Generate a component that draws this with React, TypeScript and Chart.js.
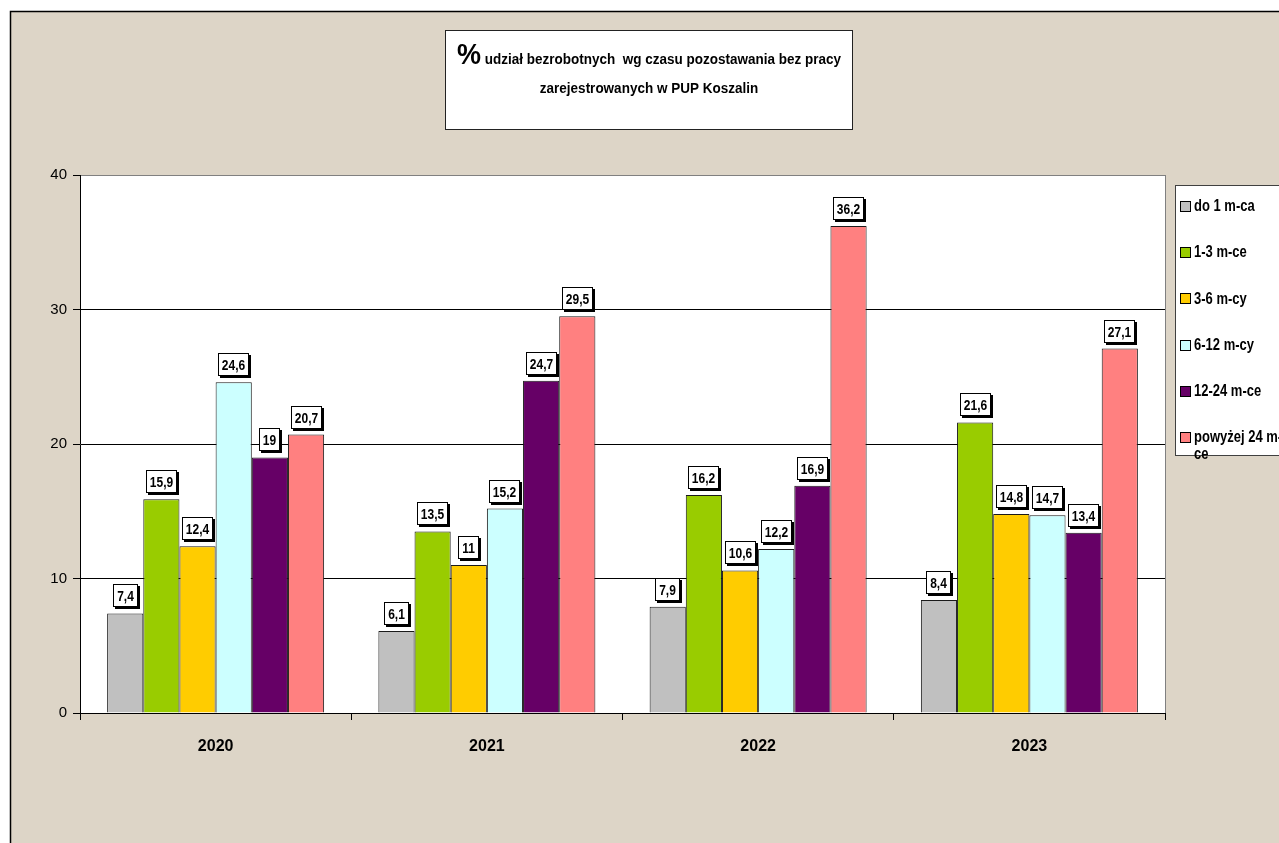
import React, { useEffect, useRef } from 'react';
import { Chart, registerables } from 'chart.js';

Chart.register(...registerables);

const categories = ['2020', '2021', '2022', '2023'];
const seriesLabels = ['do 1 m-ca', '1-3 m-ce', '3-6 m-cy', '6-12 m-cy', '12-24 m-ce', 'powyżej 24 m-ce'];
const do1 = [7.4, 6.1, 7.9, 8.4];
const m1to3 = [15.9, 13.5, 16.2, 21.6];
const m3to6 = [12.4, 11, 10.6, 14.8];
const m6to12 = [24.6, 15.2, 12.2, 14.7];
const m12to24 = [19, 24.7, 16.9, 13.4];
const over24 = [20.7, 29.5, 36.2, 27.1];
const seriesValues = [do1, m1to3, m3to6, m6to12, m12to24, over24];
const seriesColors = ['#C0C0C0', '#99CC00', '#FFCC00', '#CCFFFF', '#660066', '#FF8080'];
const yMin = 0;
const yMax = 40;
const yStep = 10;
const titleMark = '%';
const titleLine1 = 'udział bezrobotnych  wg czasu pozostawania bez pracy';
const titleLine2 = 'zarejestrowanych w PUP Koszalin';

const FONT = '"Liberation Sans", Arial, Helvetica, sans-serif';
const BEIGE = '#DDD5C7';

const fmt = (v: number) => String(v).replace('.', ',');

// draw text stretched vertically (like the original's scaled rendering)
function stretchedText(ctx: any, text: string, x: number, y: number, sy: number) {
  ctx.save();
  ctx.translate(x, y);
  ctx.scale(1, sy);
  ctx.fillText(text, 0, 0);
  ctx.restore();
}

const framePlugin = {
  id: 'framePlugin',
  beforeDraw(chart: any) {
    const ctx = chart.ctx;
    const W = chart.width;
    const H = chart.height;
    const ca = chart.chartArea;
    ctx.save();
    ctx.fillStyle = '#FFFFFF';
    ctx.fillRect(0, 0, W, H);
    ctx.fillStyle = BEIGE;
    ctx.fillRect(11, 12, W, H);
    ctx.strokeStyle = '#000';
    ctx.lineWidth = 1.5;
    ctx.beginPath();
    ctx.moveTo(10.5, H);
    ctx.lineTo(10.5, 11.5);
    ctx.lineTo(W, 11.5);
    ctx.stroke();
    // plot area
    ctx.fillStyle = '#FFFFFF';
    ctx.fillRect(ca.left, ca.top, ca.right - ca.left, ca.bottom - ca.top);

    // title box
    const tx = 445, ty = 30, tw = 408, th = 100;
    ctx.fillStyle = '#FFFFFF';
    ctx.fillRect(tx, ty, tw, th);
    ctx.strokeStyle = '#222';
    ctx.lineWidth = 1;
    ctx.strokeRect(tx + 0.5, ty + 0.5, tw - 1, th - 1);
    const cx = tx + tw / 2;
    ctx.fillStyle = '#000';
    ctx.textBaseline = 'alphabetic';
    ctx.textAlign = 'left';
    const bigFont = `bold 27px ${FONT}`;
    const smallFont = `bold 13.5px ${FONT}`;
    ctx.font = bigFont;
    const wBig = ctx.measureText(titleMark).width;
    ctx.font = smallFont;
    const gap = ctx.measureText(' ').width;
    const wSmall = ctx.measureText(titleLine1).width;
    const total = wBig + gap + wSmall;
    const x0 = cx - total / 2;
    ctx.font = bigFont;
    stretchedText(ctx, titleMark, x0, 64, 1.1);
    ctx.font = smallFont;
    stretchedText(ctx, titleLine1, x0 + wBig + gap, 64, 1.15);
    ctx.textAlign = 'center';
    stretchedText(ctx, titleLine2, cx, 93, 1.15);
    ctx.restore();
  },
  afterDraw(chart: any) {
    const ctx = chart.ctx;
    const ca = chart.chartArea;
    ctx.save();
    // right border of plot area
    ctx.strokeStyle = '#808080';
    ctx.lineWidth = 1;
    ctx.beginPath();
    ctx.moveTo(Math.round(ca.right) + 0.5, ca.top);
    ctx.lineTo(Math.round(ca.right) + 0.5, ca.bottom);
    ctx.stroke();

    // data labels
    ctx.font = `bold 12px ${FONT}`;
    ctx.textAlign = 'center';
    ctx.textBaseline = 'middle';
    chart.data.datasets.forEach((ds: any, i: number) => {
      const meta = chart.getDatasetMeta(i);
      meta.data.forEach((bar: any, j: number) => {
        const text = fmt(ds.data[j]);
        const w = Math.round(ctx.measureText(text).width + 8);
        const h = 23;
        const left = Math.round(bar.x - w / 2);
        const top = Math.round(bar.y - 6 - h);
        ctx.fillStyle = '#000';
        ctx.fillRect(left + 2, top + 2, w, h);
        ctx.fillStyle = '#FFF';
        ctx.fillRect(left, top, w, h);
        ctx.strokeStyle = '#000';
        ctx.lineWidth = 1;
        ctx.strokeRect(left + 0.5, top + 0.5, w - 1, h - 1);
        ctx.fillStyle = '#000';
        stretchedText(ctx, text, left + w / 2, top + h / 2 + 1, 1.25);
      });
    });

    // legend box
    const lx = 1175, ly = 185, lw = 200, lh = 271;
    ctx.fillStyle = '#FFF';
    ctx.fillRect(lx, ly, lw, lh);
    ctx.strokeStyle = '#404040';
    ctx.strokeRect(lx + 0.5, ly + 0.5, lw, lh - 1);
    ctx.font = `bold 13px ${FONT}`;
    ctx.textAlign = 'left';
    ctx.textBaseline = 'middle';
    const maxW = 80;
    seriesLabels.forEach((label, i) => {
      const yc = 207 + i * 46.2;
      ctx.fillStyle = seriesColors[i];
      ctx.fillRect(1181, Math.round(yc - 5), 9, 9);
      ctx.strokeStyle = '#000';
      ctx.strokeRect(1180.5, Math.round(yc - 5) - 0.5, 10, 10);
      ctx.fillStyle = '#000';
      let lines = [label];
      if (ctx.measureText(label).width > maxW && label.lastIndexOf('-') > 0) {
        const k = label.lastIndexOf('-') + 1;
        lines = [label.slice(0, k), label.slice(k)];
      }
      lines.forEach((ln, k) => stretchedText(ctx, ln, 1194, yc + k * 17, 1.2));
    });
    ctx.restore();
  },
};

export default function App() {
  const ref = useRef<HTMLCanvasElement | null>(null);
  useEffect(() => {
    if (!ref.current) return;
    Chart.defaults.font.family = FONT;
    Chart.defaults.color = '#000';
    const chart = new Chart(ref.current, {
      type: 'bar',
      data: {
        labels: categories,
        datasets: seriesValues.map((vals, i) => ({
          label: seriesLabels[i],
          data: vals,
          backgroundColor: seriesColors[i],
          borderColor: '#1a1a1a',
          borderWidth: 1,
          categoryPercentage: 0.8,
          barPercentage: 1.0,
        })),
      },
      options: {
        animation: false,
        responsive: false,
        devicePixelRatio: 1,
        layout: { padding: { left: 20, top: 175, right: 114, bottom: 90 } },
        plugins: {
          legend: { display: false },
          title: { display: false },
          tooltip: { enabled: false },
        },
        scales: {
          x: {
            afterFit: (s: any) => { s.height = 40; },
            grid: {
              offset: true,
              drawOnChartArea: false,
              drawTicks: true,
              tickLength: 7,
              tickColor: '#000',
            },
            border: { color: '#000', width: 1 },
            ticks: { padding: 17, font: { size: 16, weight: 'bold' }, color: '#000' },
          },
          y: {
            min: yMin,
            max: yMax,
            afterFit: (s: any) => { s.width = 60; },
            ticks: { stepSize: yStep, padding: 6, font: { size: 15 }, color: '#000' },
            grid: {
              color: (c: any) => (c.tick && c.tick.value === yMax ? '#808080' : '#000'),
              tickColor: '#000',
              tickLength: 7,
              lineWidth: 1,
            },
            border: { color: '#000', width: 1 },
          },
        },
      },
      plugins: [framePlugin],
    } as any);
    return () => chart.destroy();
  }, []);
  return (
    <div style={{ position: 'absolute', left: 0, top: 0, width: 1279, height: 843 }}>
      <canvas ref={ref} width={1279} height={843} style={{ display: 'block' }} />
    </div>
  );
}
